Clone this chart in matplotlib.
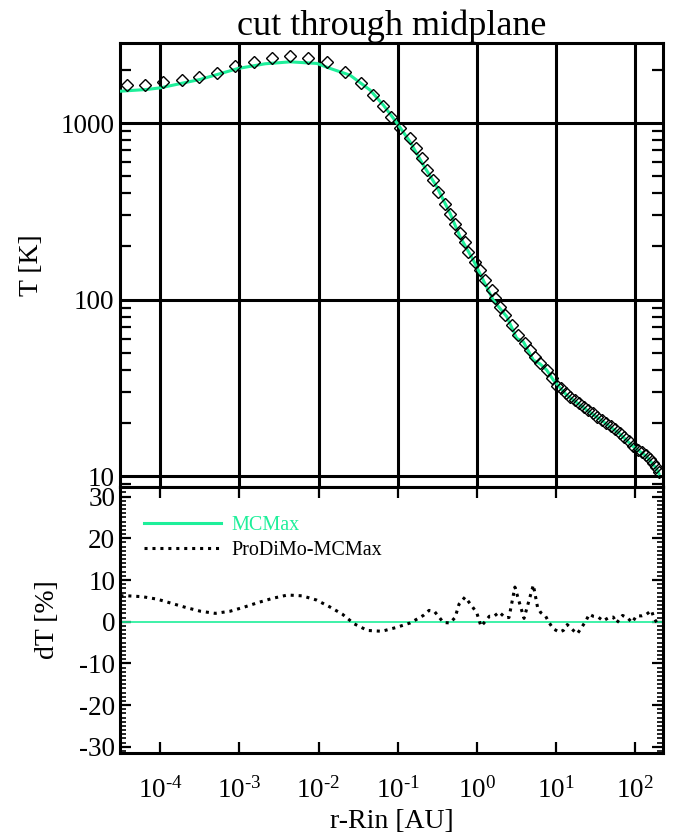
import matplotlib
matplotlib.use("Agg")
import matplotlib.pyplot as plt
import matplotlib.ticker as mticker
import numpy as np

plt.rcParams['font.family'] = ['Liberation Serif', 'DejaVu Serif']
plt.rcParams['mathtext.fontset'] = 'custom'
plt.rcParams['mathtext.rm'] = 'Liberation Serif'
plt.rcParams['mathtext.default'] = 'regular'
plt.rcParams['axes.unicode_minus'] = False

green = "#1EEF9A"

# MCMax midplane temperature (solid line)
r_mcmax = [3.13e-5, 6.79e-5, 1.0e-4, 3.2e-4, 9.66e-4, 2.12e-3, 4.37e-3, 9.5e-3,
           1.4e-2, 2.5e-2, 4.49e-2, 6.6e-2, 9.75e-2, 0.1435, 0.211, 0.312,
           0.459, 0.614, 0.904, 1.61, 2.39, 3.19, 3.87, 5.18, 6.29, 7.64,
           9.26, 13.6, 24.4, 43.7, 64.3, 94.7, 140, 187, 200]
T_mcmax = [1517, 1552, 1585, 1770, 2042, 2170, 2225, 2180,
           2042, 1870, 1538, 1265, 1004, 783, 578, 436,
           308, 227, 167, 99.3, 80.0, 60.3, 57.7, 45.4, 43.2, 39.9,
           35.0, 28.8, 23.7, 19.7, 17.3, 14.7, 12.9, 11.0, 10.3]

# ProDiMo midplane temperature (diamonds)
r_prodimo = [3.80e-5, 6.47e-5, 1.09e-4, 1.88e-4, 3.10e-4, 5.25e-4, 8.85e-4, 1.54e-3,
             2.60e-3, 4.38e-3, 7.39e-3, 1.29e-2, 2.14e-2, 3.45e-2, 4.89e-2, 6.59e-2,
             8.25e-2, 0.107, 0.1435, 0.171, 0.201, 0.233, 0.282, 0.327,
             0.397, 0.459, 0.531, 0.614, 0.710, 0.781, 0.949, 1.10,
             1.27, 1.54, 1.70, 1.96, 2.27, 2.76, 3.34, 4.06,
             4.70, 5.43, 6.29, 7.64, 8.83, 10.2, 11.6, 13.4,
             15.2, 17.4, 19.8, 22.6, 25.7, 29.3, 33.4, 38.1,
             43.4, 49.5, 56.4, 64.3, 73.3, 83.5, 95.2, 108,
             122, 137, 154, 170, 186, 200]
T_prodimo = [1642, 1642, 1701, 1754, 1830, 1936, 2112, 2225,
             2344, 2397, 2327, 2208, 1959, 1679, 1441, 1253,
             1077, 933, 819, 719, 631, 542, 476, 408,
             348, 305, 268, 238, 213, 187, 164, 147,
             129, 113, 102, 91.0, 81.6, 71.7, 63.0, 56.5,
             51.8, 47.5, 43.5, 39.9, 35.8, 32.4, 31.7, 29.5,
             28.2, 27.0, 25.8, 24.6, 23.7, 22.8, 21.7, 20.8,
             20.0, 19.2, 18.4, 17.5, 16.6, 15.7, 14.8, 14.1,
             13.6, 13.1, 12.5, 11.9, 11.2, 10.5]

# relative difference ProDiMo - MCMax [%]
r_dT = [3.13e-5, 3.86e-5, 5.93e-5, 9.16e-5, 1.39e-4, 2.11e-4, 3.23e-4, 4.94e-4,
        7.59e-4, 1.15e-3, 1.73e-3, 2.62e-3, 4.05e-3, 6.21e-3, 9.4e-3, 1.37e-2,
        2.0e-2, 2.81e-2, 4.14e-2, 6.3e-2, 9.55e-2, 0.144, 0.211, 0.249,
        0.290, 0.327, 0.378, 0.459, 0.531, 0.596, 0.710, 0.863,
        1.0, 1.13, 1.27, 1.44, 1.65, 1.92, 2.27, 2.55,
        3.03, 3.40, 3.95, 5.18, 5.85, 6.41, 7.41, 8.24,
        9.25, 11.0, 12.4, 13.9, 16.6, 18.6, 21.1, 23.9,
        26.4, 29.6, 34.2, 39.5, 45.7, 53.0, 58.5, 69.5,
        80.4, 91.8, 104, 121, 140, 161, 173, 195]
dT = [6.2, 6.2, 6.0, 5.4, 4.4, 3.4, 2.5, 2.0,
      2.5, 3.5, 4.6, 5.6, 6.4, 6.2, 5.2, 3.6,
      1.8, -0.5, -2.1, -2.3, -1.4, -0.3, 1.5, 2.7,
      2.5, 1.3, -0.2, -0.3, 1.0, 4.2, 5.9, 3.8,
      2.1, -1.1, 0.0, 1.3, 1.3, 2.3, 1.0, 1.0,
      8.3, 5.0, 0.8, 8.8, 3.5, 2.2, 1.3, -0.3,
      -1.7, -2.5, -2.1, -0.7, -2.1, -2.9, -1.4, 0.2,
      1.8, 1.3, 1.1, 0.2, 0.9, 1.1, -0.3, 1.5,
      0.9, -0.2, 1.4, 1.4, 1.8, 2.7, 0.9, -0.7]

x_ticks = [1e-4, 1e-3, 1e-2, 1e-1, 1e0, 1e1, 1e2]
x_ticklabels = [r'$10^{\text{-}4}$', r'$10^{\text{-}3}$', r'$10^{\text{-}2}$',
                r'$10^{\text{-}1}$', r'$10^{0}$', r'$10^{1}$', r'$10^{2}$']
T_ticks = [10, 100, 1000]
T_ticklabels = ['10', '100', '1000']
dT_ticks = [-30, -20, -10, 0, 10, 20, 30]
dT_ticklabels = ['-30', '-20', '-10', '0', '10', '20', '30']

xlim = (3.1e-5, 226)

fig = plt.figure(figsize=(6.9, 8.39), dpi=100)
ax1 = fig.add_axes([0.174, 0.4195, 0.787, 0.529])
ax2 = fig.add_axes([0.174, 0.1025, 0.787, 0.317])

# --- top panel
ax1.set_axisbelow(True)
ax1.plot(r_mcmax, T_mcmax, color=green, lw=2.2, zorder=3)
ax1.plot(r_prodimo, T_prodimo, ls='none', marker='D', ms=6.4, mfc='none',
         mec='black', mew=1.0, zorder=4)
ax1.set_xscale('log')
ax1.set_yscale('log')
ax1.set_xlim(*xlim)
ax1.set_ylim(8.66, 2838)
ax1.set_title('cut through midplane', fontsize=26, pad=5)
ax1.set_ylabel('T [K]', fontsize=20, labelpad=12)
ax1.xaxis.set_major_locator(mticker.FixedLocator(x_ticks))
ax1.xaxis.set_minor_locator(mticker.NullLocator())
ax1.yaxis.set_major_locator(mticker.FixedLocator(T_ticks))
ax1.yaxis.set_major_formatter(mticker.FixedFormatter(T_ticklabels))
ax1.yaxis.set_minor_locator(mticker.LogLocator(base=10, subs=np.arange(2, 10), numticks=20))
ax1.yaxis.set_minor_formatter(mticker.NullFormatter())
ax1.grid(True, which='major', color='black', lw=2.2)
ax1.tick_params(axis='x', which='both', length=0, labelbottom=False)
ax1.tick_params(axis='y', which='major', length=0, labelsize=19.5, pad=4)
ax1.tick_params(axis='y', which='minor', direction='in', length=8, width=1.6,
                left=True, right=True)

# --- bottom panel
ax2.axhline(0, color=green, lw=1.2, zorder=2)
ax2.plot(r_dT, dT, color='black', lw=2.2, ls=(0, (1, 1.6)), zorder=3)
h_m, = ax2.plot([], [], color=green, lw=2.2)
h_p, = ax2.plot([], [], color='black', lw=2.2, ls=(0, (1, 1.6)))
ax2.legend([h_m, h_p], ['MCMax', 'ProDiMo-MCMax'], loc='upper left',
           bbox_to_anchor=(0.03, 0.92), frameon=False, fontsize=14.5,
           handlelength=3.8, handletextpad=0.5, labelspacing=0.25,
           borderaxespad=0, labelcolor=[green, 'black'])
ax2.set_xscale('log')
ax2.set_xlim(*xlim)
ax2.set_ylim(-31.5, 32.3)
ax2.set_xlabel('r-Rin [AU]', fontsize=20, labelpad=4)
ax2.set_ylabel('dT [%]', fontsize=20, labelpad=14)
ax2.xaxis.set_major_locator(mticker.FixedLocator(x_ticks))
ax2.xaxis.set_major_formatter(mticker.FixedFormatter(x_ticklabels))
ax2.xaxis.set_minor_locator(mticker.NullLocator())
ax2.yaxis.set_major_locator(mticker.FixedLocator(dT_ticks))
ax2.yaxis.set_major_formatter(mticker.FixedFormatter(dT_ticklabels))
ax2.yaxis.set_minor_locator(mticker.MultipleLocator(1))
ax2.tick_params(axis='both', which='major', direction='in', length=8, width=1.6,
                labelsize=19.5, top=True, right=True)
ax2.tick_params(axis='y', which='minor', direction='in', length=4, width=1.2,
                left=True, right=True)
ax2.tick_params(axis='x', pad=17)

for ax in (ax1, ax2):
    for sp in ax.spines.values():
        sp.set_linewidth(2.2)

fig.savefig('out.png', dpi=100)
